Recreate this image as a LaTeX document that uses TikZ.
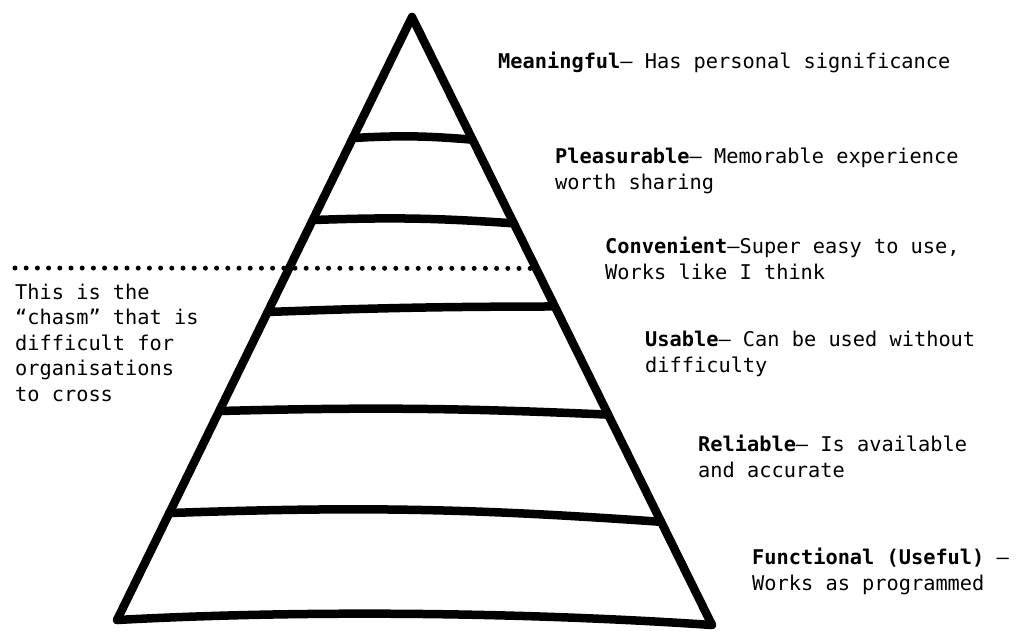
\documentclass[tikz,border=0pt]{standalone}
\usepackage{fontspec}
\usetikzlibrary{calc}
\newfontfamily\levelfont{DejaVu Sans Mono}
\tikzset{
  level/.style={anchor=base west, inner sep=0pt, align=left,
    font=\levelfont\fontsize{20.3}{25.5}\selectfont},
  band/.style={line width=8.5pt, line cap=round},
  chasm/.style={line width=5pt, line cap=round, dash pattern=on 0pt off 11.2pt}
}
\begin{document}
\begin{tikzpicture}[x=1pt, y=-1pt, line join=round]
		\useasboundingbox (0,0) rectangle (1020,630);

		% Pyramid outline
		\coordinate (top) at (412,17);
		\coordinate (baseL) at (117,620);
		\coordinate (baseR) at (712,625);
		\draw[band] (baseL) -- (top) -- (baseR);
		\draw[band] (baseL) .. controls (300,610) and (520,612) .. (baseR);

		% Bands
		\draw[band] ($(top)!0.2007!(baseL)$) to[bend left=4] ($(top)!0.2018!(baseR)$);
		\draw[band] ($(top)!0.3367!(baseL)$) to[bend left=3] ($(top)!0.3394!(baseR)$);
		\draw[band] ($(top)!0.4892!(baseL)$) to[bend left=1] ($(top)!0.4761!(baseR)$);
		\draw[band] ($(top)!0.6534!(baseL)$) to[bend left=2] ($(top)!0.6540!(baseR)$);
		\draw[band] ($(top)!0.8226!(baseL)$) to[bend left=3] ($(top)!0.8303!(baseR)$);

		% Chasm line
		\coordinate (chasmL) at (15,268);
		\coordinate (chasmR) at ($(top)!0.4135!(baseR)$);
		\draw[chasm] (chasmL) -- (chasmR);
		\node[level] (chasmtext) at (15,401) {This is the\\“chasm” that is\\difficult for\\organisations\\to cross};

		% Level labels (placed by the baseline of their last line)
		\node[level] (meaningful) at (498,68) {\textbf{Meaningful}– Has personal significance};
		\node[level] (pleasurable) at (555,189) {\textbf{Pleasurable}– Memorable experience\\worth sharing};
		\node[level] (convenient) at (605,279) {\textbf{Convenient}–Super easy to use,\\Works like I think};
		\node[level] (usable) at (645,372) {\textbf{Usable}– Can be used without\\difficulty};
		\node[level] (reliable) at (698,477) {\textbf{Reliable}– Is available\\and accurate};
		\node[level] (functional) at (752,590) {\textbf{Functional (Useful)} –\\Works as programmed};
	\end{tikzpicture}
\end{document}
